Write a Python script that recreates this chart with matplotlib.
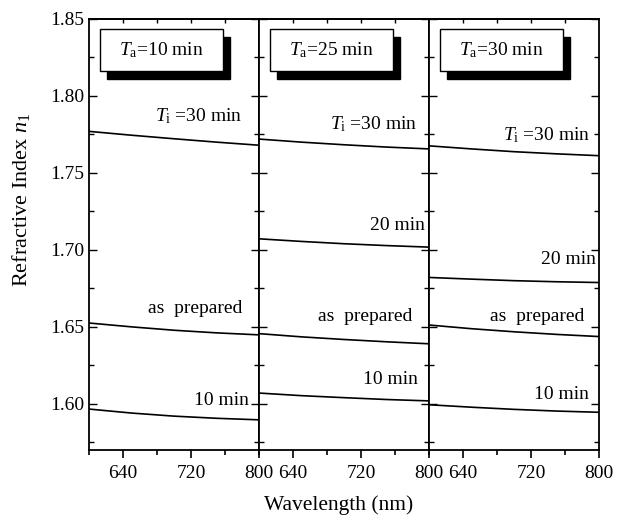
import matplotlib
matplotlib.use('Agg')
import matplotlib.pyplot as plt
from matplotlib.patches import Rectangle
from matplotlib.ticker import FixedLocator

plt.rcParams['font.family'] = ['Liberation Serif', 'DejaVu Serif']
plt.rcParams['mathtext.fontset'] = 'custom'
plt.rcParams['mathtext.rm'] = 'Liberation Serif'
plt.rcParams['mathtext.it'] = 'Liberation Serif:italic'

# wavelength samples (nm)
wavelength = [600, 650, 700, 750, 800]

# annealing times per panel
anneal_labels = ['$T_{\\rm a}$=10 min', '$T_{\\rm a}$=25 min', '$T_{\\rm a}$=30 min']

# refractive index curves, one list of curves per panel
panel1_ti30 = [1.7770, 1.7745, 1.7722, 1.7700, 1.7680]
panel1_prep = [1.6525, 1.6500, 1.6478, 1.6461, 1.6448]
panel1_ti10 = [1.5966, 1.5940, 1.5920, 1.5906, 1.5896]

panel2_ti30 = [1.7720, 1.7700, 1.7683, 1.7668, 1.7656]
panel2_ti20 = [1.7072, 1.7055, 1.7040, 1.7028, 1.7018]
panel2_prep = [1.6456, 1.6435, 1.6418, 1.6403, 1.6390]
panel2_ti10 = [1.6070, 1.6053, 1.6040, 1.6028, 1.6019]

panel3_ti30 = [1.7676, 1.7656, 1.7638, 1.7624, 1.7612]
panel3_ti20 = [1.6821, 1.6810, 1.6800, 1.6793, 1.6788]
panel3_prep = [1.6512, 1.6488, 1.6468, 1.6451, 1.6437]
panel3_ti10 = [1.5994, 1.5978, 1.5964, 1.5953, 1.5945]

curves = [
    [panel1_ti30, panel1_prep, panel1_ti10],
    [panel2_ti30, panel2_ti20, panel2_prep, panel2_ti10],
    [panel3_ti30, panel3_ti20, panel3_prep, panel3_ti10],
]

ti30 = '$T_{\\rm i}$ =30 min'
curve_labels = [
    [ti30, 'as  prepared', '10 min'],
    [ti30, '20 min', 'as  prepared', '10 min'],
    [ti30, '20 min', 'as  prepared', '10 min'],
]

# label anchor points (right edge x, center y)
label_pos = [
    [(781, 1.787), (781, 1.662), (788, 1.602)],
    [(786, 1.782), (795, 1.716), (781, 1.6565), (787, 1.6156)],
    [(790, 1.7747), (796, 1.694), (783, 1.657), (788, 1.606)],
]

fig = plt.figure(figsize=(6.25, 5.15), dpi=100)

left = 89 / 625
width = 170 / 625
bottom = 1 - 450 / 515
height = (450 - 19) / 515
fs = 14

for i in range(3):
    ax = fig.add_axes([left + i * width, bottom, width, height])
    for ys in curves[i]:
        ax.plot(wavelength, ys, color='black', lw=1.2)
    for txt, (x, y) in zip(curve_labels[i], label_pos[i]):
        ax.text(x, y, txt, ha='right', va='center', fontsize=fs)

    ax.set_xlim(600, 800)
    ax.set_ylim(1.57, 1.85)
    ax.xaxis.set_major_locator(FixedLocator([640, 720, 800]))
    ax.xaxis.set_minor_locator(FixedLocator([600, 680, 760]))
    ax.yaxis.set_major_locator(FixedLocator([1.60, 1.65, 1.70, 1.75, 1.80, 1.85]))
    ax.yaxis.set_minor_locator(FixedLocator([1.575, 1.625, 1.675, 1.725, 1.775, 1.825]))
    ax.tick_params(axis='x', which='major', direction='out', length=6, width=1.2,
                   labelsize=fs, pad=5)
    ax.tick_params(axis='x', which='minor', direction='out', length=3.5, width=1.2)
    ax.tick_params(axis='y', which='both', direction='in', left=True, right=True,
                   width=1.0, labelsize=fs)
    ax.tick_params(axis='y', which='major', length=6)
    ax.tick_params(axis='y', which='minor', length=3.5)
    if i > 0:
        ax.tick_params(axis='y', labelleft=False)
    for sp in ax.spines.values():
        sp.set_linewidth(1.3)

    # small inward ticks along the top edge
    top = ax.secondary_xaxis('top')
    top.xaxis.set_major_locator(FixedLocator([640, 680, 720, 760]))
    top.tick_params(direction='in', length=3, width=1.0, labeltop=False)
    top.spines['top'].set_linewidth(1.3)

    # annealing-time box with drop shadow
    bx, by, bw, bh = 0.065, 0.879, 0.725, 0.098
    ax.add_patch(Rectangle((bx + 0.04, by - 0.019), bw, bh, transform=ax.transAxes,
                           facecolor='black', edgecolor='black', zorder=3))
    ax.add_patch(Rectangle((bx, by), bw, bh, transform=ax.transAxes,
                           facecolor='white', edgecolor='black', lw=1.0, zorder=4))
    ax.text(bx + bw / 2, by + bh / 2, anneal_labels[i], transform=ax.transAxes,
            ha='center', va='center', fontsize=fs, zorder=5)

fig.text(339 / 625, 1 - 505 / 515, 'Wavelength (nm)', ha='center', va='center', fontsize=15.5)
fig.text(21 / 625, 1 - 200 / 515, 'Refractive Index $n_1$', ha='center', va='center',
         rotation=90, fontsize=16)

fig.savefig('out.png', dpi=100)
